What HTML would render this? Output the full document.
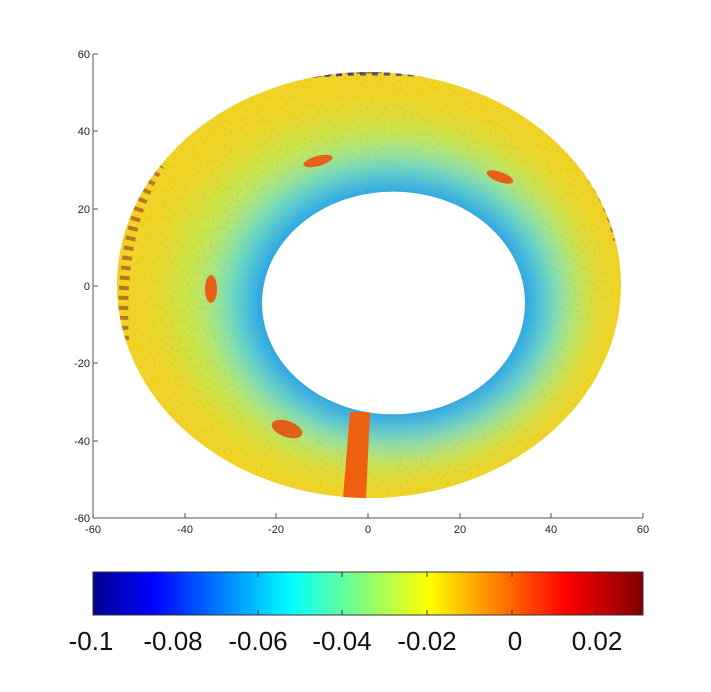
<!DOCTYPE html>
<html><head><meta charset="utf-8"><style>
body{margin:0;background:#fff;width:711px;height:692px;overflow:hidden}
svg{display:block}
</style></head><body>
<svg width="711" height="692" viewBox="0 0 711 692" xmlns="http://www.w3.org/2000/svg" font-family="Liberation Sans, sans-serif">
<defs>
<clipPath id="ann"><path clip-rule="evenodd" fill-rule="evenodd" d="M117,285 a252,213 0 1,0 504,0 a252,213 0 1,0 -504,0 Z M262,303 a131,111 0 1,0 263,0 a131,111 0 1,0 -263,0 Z"/></clipPath>
<filter id="bl" x="-20%" y="-20%" width="140%" height="140%"><feGaussianBlur stdDeviation="16"/></filter>
<filter id="nz"><feTurbulence type="fractalNoise" baseFrequency="0.3" numOctaves="2" seed="3"/><feColorMatrix type="matrix" values="0 0 0 0 0.9  0 0 0 0 0.4  0 0 0 0 0  0 0 0 -2.5 1.3"/></filter>
<linearGradient id="jet" x1="0" x2="1" y1="0" y2="0">
<stop offset="0" stop-color="#00008f"/>
<stop offset="0.11" stop-color="#0000ff"/>
<stop offset="0.36" stop-color="#00ffff"/>
<stop offset="0.61" stop-color="#ffff00"/>
<stop offset="0.86" stop-color="#ff0000"/>
<stop offset="1" stop-color="#800000"/>
</linearGradient>
</defs>
<g clip-path="url(#ann)">
<rect x="100" y="60" width="540" height="450" fill="#f0d428"/>
<g filter="url(#bl)">
<ellipse cx="380" cy="295" rx="215" ry="180" fill="#c8e848"/>
<ellipse cx="390" cy="300" rx="180" ry="152" fill="#70e8a8"/>
<ellipse cx="393" cy="303" rx="158" ry="134" fill="#30c8f0"/>
<ellipse cx="393" cy="303" rx="140" ry="119" fill="#1890f0"/>
</g>
<rect x="100" y="60" width="540" height="450" filter="url(#nz)" opacity="0.3"/>
<path d="M190,100 Q300,62 420,68 Q520,76 590,140" stroke="#7a1010" stroke-width="12" fill="none" stroke-dasharray="5 5" opacity="0.55"/>
<path d="M300,74 Q380,66 470,76" stroke="#102090" stroke-width="10" fill="none" stroke-dasharray="6 6" opacity="0.7"/>
<path d="M124,340 Q118,230 160,165" stroke="#8a1818" stroke-width="10" fill="none" stroke-dasharray="4 6" opacity="0.5"/>
<path d="M540,120 Q605,175 618,240" stroke="#8a1818" stroke-width="10" fill="none" stroke-dasharray="5 6" opacity="0.5"/>
<ellipse cx="318" cy="161" rx="15" ry="5" fill="#e86018" transform="rotate(-15 318 161)"/>
<ellipse cx="500" cy="177" rx="14" ry="5" fill="#e86018" transform="rotate(20 500 177)"/>
<ellipse cx="211" cy="289" rx="6" ry="14" fill="#e86018"/>
<ellipse cx="287" cy="429" rx="16" ry="8" fill="#e06018" transform="rotate(20 287 429)"/>
<polygon points="350,412 370,412 366,498 343,498" fill="#ef6010"/>
</g>
<g stroke="#555" stroke-width="1" fill="none">
<line x1="93" y1="54" x2="93" y2="518"/>
<line x1="93" y1="518" x2="643" y2="518"/>
</g>
<g stroke="#555" stroke-width="1">
<line x1="93" y1="54" x2="98" y2="54"/><line x1="93" y1="131" x2="98" y2="131"/><line x1="93" y1="209" x2="98" y2="209"/><line x1="93" y1="286" x2="98" y2="286"/><line x1="93" y1="363" x2="98" y2="363"/><line x1="93" y1="441" x2="98" y2="441"/>
<line x1="185" y1="518" x2="185" y2="513"/><line x1="276" y1="518" x2="276" y2="513"/><line x1="368" y1="518" x2="368" y2="513"/><line x1="460" y1="518" x2="460" y2="513"/><line x1="551" y1="518" x2="551" y2="513"/><line x1="643" y1="518" x2="643" y2="513"/>
</g>
<g font-size="11" fill="#222" text-anchor="end">
<text x="90" y="58">60</text><text x="90" y="135">40</text><text x="90" y="213">20</text><text x="90" y="290">0</text><text x="90" y="367">-20</text><text x="90" y="445">-40</text><text x="90" y="522">-60</text>
</g>
<g font-size="11" fill="#222" text-anchor="middle">
<text x="93" y="533">-60</text><text x="185" y="533">-40</text><text x="276" y="533">-20</text><text x="368" y="533">0</text><text x="460" y="533">20</text><text x="551" y="533">40</text><text x="643" y="533">60</text>
</g>
<rect x="93" y="572" width="550" height="43" fill="url(#jet)" stroke="#333" stroke-width="1"/>
<g stroke="#333"><line x1="173" y1="572" x2="173" y2="577"/><line x1="258" y1="572" x2="258" y2="577"/><line x1="342" y1="572" x2="342" y2="577"/><line x1="427" y1="572" x2="427" y2="577"/><line x1="512" y1="572" x2="512" y2="577"/><line x1="597" y1="572" x2="597" y2="577"/>
<line x1="173" y1="615" x2="173" y2="610"/><line x1="258" y1="615" x2="258" y2="610"/><line x1="342" y1="615" x2="342" y2="610"/><line x1="427" y1="615" x2="427" y2="610"/><line x1="512" y1="615" x2="512" y2="610"/><line x1="597" y1="615" x2="597" y2="610"/></g>
<g font-size="26" fill="#111" text-anchor="middle">
<text x="91" y="650">-0.1</text><text x="173" y="650">-0.08</text><text x="258" y="650">-0.06</text><text x="342" y="650">-0.04</text><text x="427" y="650">-0.02</text><text x="515" y="650">0</text><text x="597" y="650">0.02</text>
</g>
</svg>
</body></html>
